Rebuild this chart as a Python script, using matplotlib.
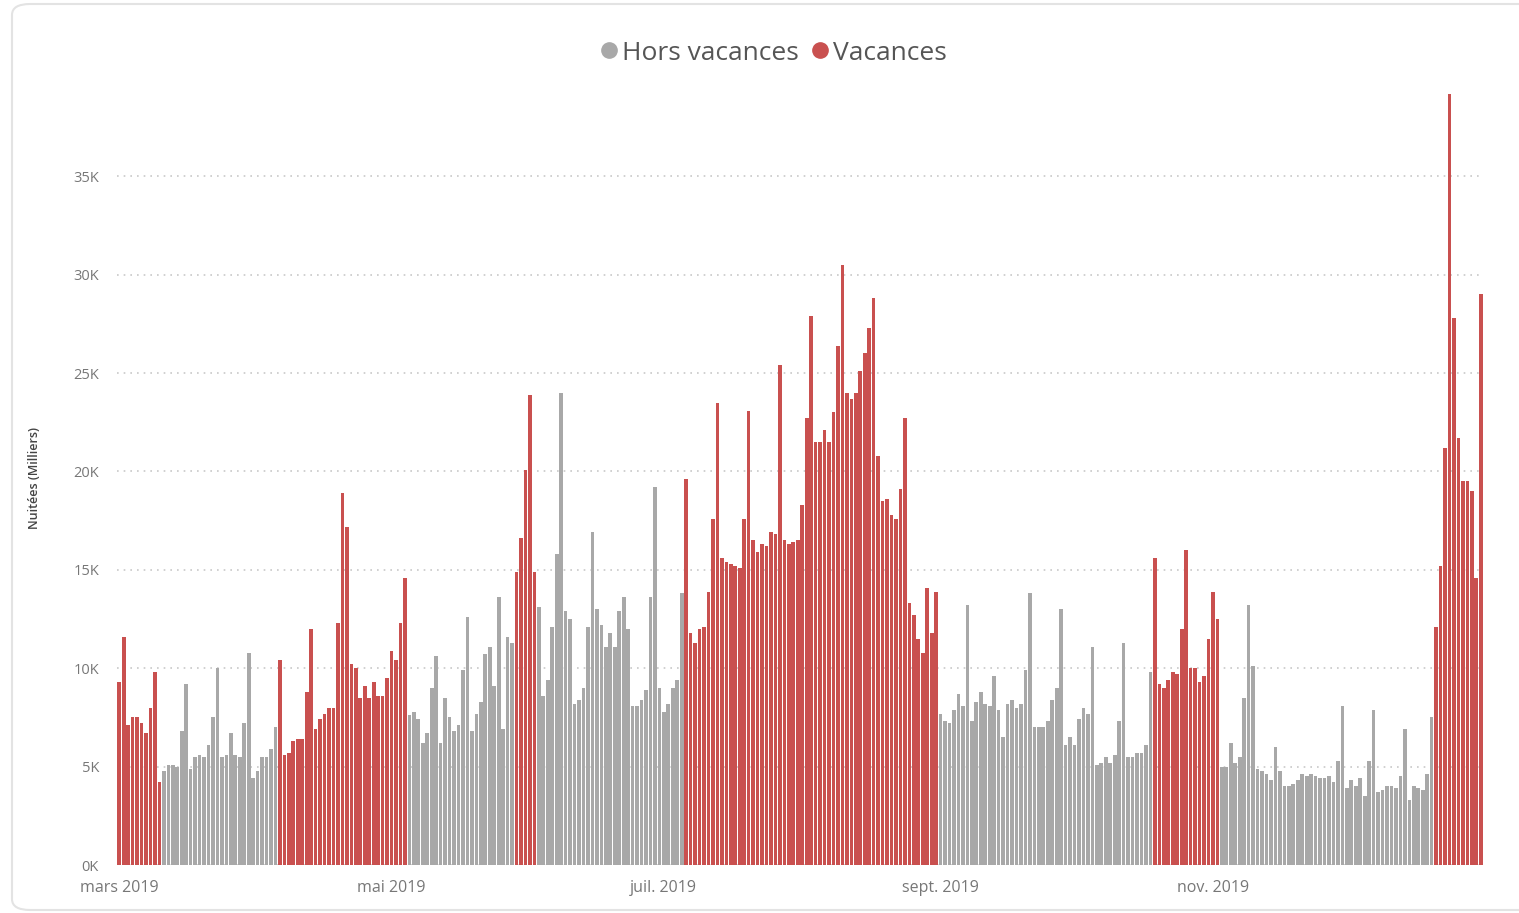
import matplotlib
matplotlib.use("Agg")
import matplotlib.pyplot as plt
import matplotlib.dates as mdates
from matplotlib.patches import FancyBboxPatch
from matplotlib.lines import Line2D
import numpy as np
import pandas as pd

# ---- data (thousands of nights), consecutive daily periods ----
start_date = "2019-03-01"

p1_vac = [9.3, 11.6, 7.1, 7.5, 7.5, 7.2, 6.7, 8.0, 9.8, 4.2]
p2_hors = [4.8, 5.1, 5.1, 5.0, 6.8, 9.2, 4.9, 5.5, 5.6, 5.5, 6.1, 7.5, 10.0, 5.5, 5.6,
           6.7, 5.6, 5.5, 7.2, 10.8, 4.4, 4.8, 5.5, 5.5, 5.9, 7.0]
p3_vac = [10.4, 5.6, 5.7, 6.3, 6.4, 6.4, 8.8, 12.0, 6.9, 7.4, 7.7, 8.0, 8.0, 12.3, 18.9,
          17.2, 10.2, 10.0, 8.5, 9.1, 8.5, 9.3, 8.6, 8.6, 9.5, 10.9, 10.4, 12.3, 14.6]
p4_hors = [7.6, 7.8, 7.4, 6.2, 6.7, 9.0, 10.6, 6.2, 8.5, 7.5, 6.8, 7.1, 9.9, 12.6, 6.8,
           7.7, 8.3, 10.7, 11.1, 9.1, 13.6, 6.9, 11.6, 11.3]
p5_vac = [14.9, 16.6, 20.1, 23.9, 14.9]
p6_hors = [13.1, 8.6, 9.4, 12.1, 15.8, 24.0, 12.9, 12.5, 8.2, 8.4, 9.0, 12.1, 16.9, 13.0,
           12.2, 11.1, 11.8, 11.1, 12.9, 13.6, 12.0, 8.1, 8.1, 8.4, 8.9, 13.6, 19.2, 9.0,
           7.8, 8.2, 9.0, 9.4, 13.8]
p7_vac = [19.6, 11.8, 11.3, 12.0, 12.1, 13.9, 17.6, 23.5, 15.6, 15.4, 15.3, 15.2, 15.1,
          17.6, 23.1, 16.5, 15.9, 16.3, 16.2, 16.9, 16.8, 25.4, 16.5, 16.3, 16.4, 16.5,
          18.3, 22.7, 27.9, 21.5, 21.5, 22.1, 21.5, 23.0, 26.4, 30.5, 24.0, 23.7, 24.0,
          25.1, 26.0, 27.3, 28.8, 20.8, 18.5, 18.6, 17.8, 17.6, 19.1, 22.7, 13.3, 12.7,
          11.5, 10.8, 14.1, 11.8, 13.9]
p8_hors = [7.7, 7.3, 7.2, 7.9, 8.7, 8.1, 13.2, 7.3, 8.3, 8.8, 8.2, 8.1, 9.6, 7.9, 6.5,
           8.2, 8.4, 8.0, 8.2, 9.9, 13.8, 7.0, 7.0, 7.0, 7.3, 8.4, 9.0, 13.0, 6.1, 6.5,
           6.1, 7.4, 8.0, 7.7, 11.1, 5.1, 5.2, 5.5, 5.2, 5.6, 7.3, 11.3, 5.5, 5.5, 5.7,
           5.7, 6.1, 9.8]
p9_vac = [15.6, 9.2, 9.0, 9.4, 9.8, 9.7, 12.0, 16.0, 10.0, 10.0, 9.3, 9.6, 11.5, 13.9, 12.5]
p10_hors = [5.0, 5.0, 6.2, 5.2, 5.5, 8.5, 13.2, 10.1, 4.9, 4.8, 4.6, 4.3, 6.0, 4.8, 4.0,
            4.0, 4.1, 4.3, 4.6, 4.5, 4.6, 4.5, 4.4, 4.4, 4.5, 4.2, 5.3, 8.1, 3.9, 4.3,
            4.0, 4.4, 3.5, 5.3, 7.9, 3.7, 3.8, 4.0, 4.0, 3.9, 4.5, 6.9, 3.3, 4.0, 3.9,
            3.8, 4.6, 7.5]
p11_vac = [12.1, 15.2, 21.2, 39.2, 27.8, 21.7, 19.5, 19.5, 19.0, 14.6, 29.0]

periods = [(p1_vac, True), (p2_hors, False), (p3_vac, True), (p4_hors, False),
           (p5_vac, True), (p6_hors, False), (p7_vac, True), (p8_hors, False),
           (p9_vac, True), (p10_hors, False), (p11_vac, True)]

tick_dates = ["2019-03-01", "2019-05-01", "2019-07-01", "2019-09-01", "2019-11-01"]
tick_labels = ["mars 2019", "mai 2019", "juil. 2019", "sept. 2019", "nov. 2019"]
legend_labels = ["Hors vacances", "Vacances"]
y_ticks_k = [0, 5, 10, 15, 20, 25, 30, 35]

# ---- build series ----
values, is_vac = [], []
for vals, vac in periods:
    values += vals
    is_vac += [vac] * len(vals)
values = np.array(values) * 1000
dates = pd.date_range(start_date, periods=len(values), freq="D")
is_vac = np.array(is_vac)

RED = "#C9504F"
GRAY = "#A8A8A8"

plt.rcParams['font.family'] = ['Open Sans', 'DejaVu Sans']
fig = plt.figure(figsize=(15.19, 9.13), dpi=100)
fig.patch.set_facecolor("white")

# card border
card = FancyBboxPatch((12 / 1519, 3 / 913), 1540 / 1519, 906 / 913,
                      boxstyle="round,pad=0,rounding_size=0.012",
                      transform=fig.transFigure, facecolor="none",
                      edgecolor="#E3E3E3", linewidth=1.5, clip_on=False)
fig.patches.append(card)

ax = fig.add_axes([117 / 1519, (913 - 865) / 913, (1483 - 117) / 1519, (865 - 78) / 913])

colors = np.where(is_vac, RED, GRAY)
ax.bar(mdates.date2num(dates), values, width=0.82, color=colors, linewidth=0)

ax.set_xlim(mdates.date2num(dates[0]) - 0.5, mdates.date2num(dates[-1]) + 0.5)
ax.set_ylim(0, 40000)

ax.set_yticks([v * 1000 for v in y_ticks_k])
ax.set_yticklabels([f"{v}K" for v in y_ticks_k], fontsize=10.5, color="#777777")
ax.set_xticks(mdates.date2num(pd.to_datetime(tick_dates)))
ax.set_xticklabels(tick_labels, fontsize=11.5, color="#777777")
ax.tick_params(axis="both", length=0)
ax.tick_params(axis="x", pad=11)
ax.tick_params(axis="y", pad=13)

ax.grid(axis="y", color="#C8C8C8", linestyle=(0, (1, 3)), linewidth=1.2)
ax.set_axisbelow(True)
for s in ax.spines.values():
    s.set_visible(False)

fig.text(35 / 1519, 1 - 478 / 913, "Nuitées (Milliers)", rotation=90, fontsize=9,
         color="#444444", ha="center", va="center", fontweight="semibold")

handles = [Line2D([], [], marker="o", linestyle="", markersize=11, color=GRAY),
           Line2D([], [], marker="o", linestyle="", markersize=11, color=RED)]
fig.legend(handles, legend_labels, loc="center", bbox_to_anchor=(770 / 1519, 1 - 53 / 913),
           ncol=2, frameon=False, fontsize=19, handletextpad=-0.1, columnspacing=0.2,
           handlelength=1.2, labelcolor="#555555")

fig.savefig("out.png", dpi=100, facecolor="white")
